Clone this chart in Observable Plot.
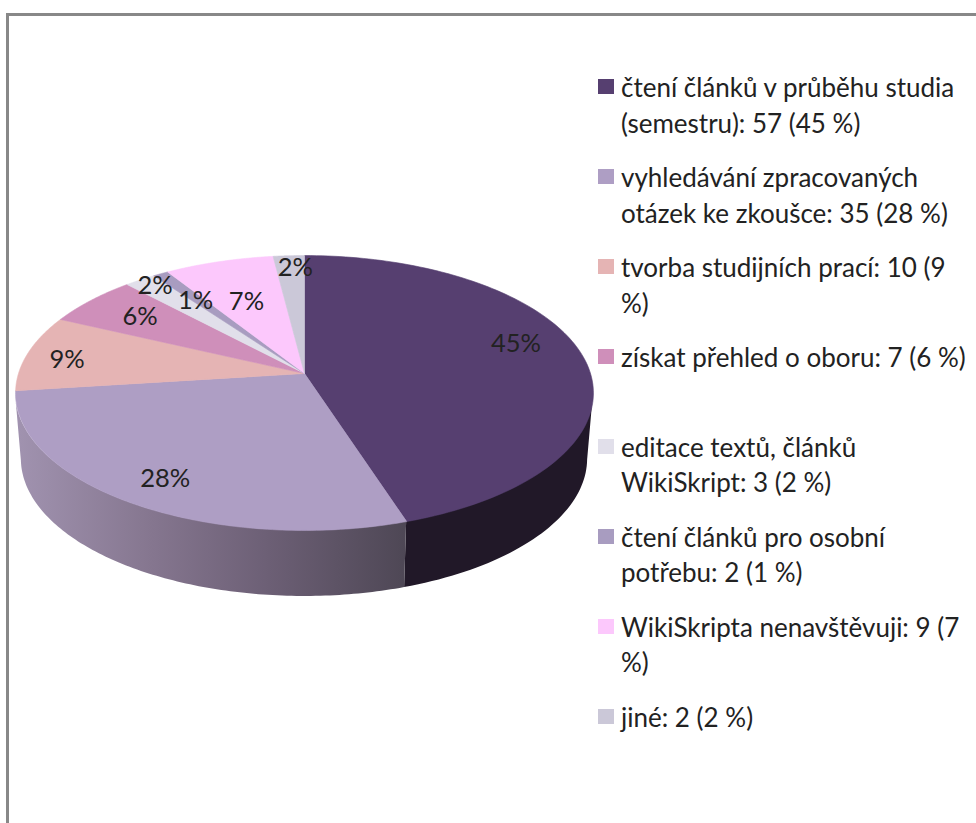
<!DOCTYPE html>
<html lang="cs">
<head>
<meta charset="utf-8">
<script src="https://cdn.jsdelivr.net/npm/d3@7"></script>
<script src="https://cdn.jsdelivr.net/npm/@observablehq/plot@0.6"></script>
<style>
  html, body { margin: 0; padding: 0; background: #fff; overflow: hidden; }
  #page { position: relative; width: 976px; height: 823px; overflow: hidden; }
  #frame { position: absolute; left: 6px; top: 13px; right: -10px; bottom: -10px;
           border: 3px solid #888; pointer-events: none; }
  #chart { position: absolute; left: 0; top: 0; }
  #chart svg { display: block; }
  #legend { position: absolute; left: 598px; top: 70px; width: 378px; margin: 0; padding: 0; list-style: none;
            font: 26px/35.5px Lato, sans-serif; color: #222; }
  #legend li { display: flex; align-items: flex-start; margin-bottom: 19px; white-space: pre; }
  #legend li.gap { margin-bottom: 54px; }
  #legend i { flex: none; width: 16px; height: 15px; margin: 9px 7px 0 0; }
</style>
</head>
<body>
<div id="page">
  <div id="chart"></div>
  <div id="frame"></div>
  <ul id="legend"></ul>
</div>
<script>
const legendLabels = [
  "čtení článků v průběhu studia\n(semestru): 57 (45 %)",
  "vyhledávání zpracovaných\notázek ke zkoušce: 35 (28 %)",
  "tvorba studijních prací: 10 (9\n%)",
  "získat přehled o oboru: 7 (6 %)",
  "editace textů, článků\nWikiSkript: 3 (2 %)",
  "čtení článků pro osobní\npotřebu: 2 (1 %)",
  "WikiSkripta nenavštěvuji: 9 (7\n%)",
  "jiné: 2 (2 %)"
];
const percents = [45, 28, 9, 6, 2, 1, 7, 2];
const colors = ["#563f70", "#ae9ec4", "#e5b4b4", "#cf8fba", "#e1dfea", "#a89cc0", "#fcc8fc", "#cbc8d8"];
const sideColors = ["#211828", "url(#rim)", "#b09090", "#a07090", "#b0aeb8", "#8a8098", "#c8a0c8", "#a09eac"];

// label fine-placement, in pixels, applied on top of the computed slice position
const labelNudge = [[3, -14], [-13, 12], [-29, 2], [-1, -1], [-23, -16], [2, 4], [8, 15], [3, -15]];

const tilt = 0.1418;     // perspective strength of the tilted disc
const depth = 0.49;      // disc thickness, in y-scale units
const rimShrink = 0.98;  // bottom rim is slightly narrower
const labelReach = 0.75;

const project = (theta, r = 1) => {
  const u = r * Math.sin(theta), v = -r * Math.cos(theta), w = 1 - tilt * v;
  return {x: u / w, y: v / w, v};
};

const arcs = d3.pie().sort(null).value(d => d)(percents);
const arcPoints = (a, r = 1) => d3.range(0, 121).map(i =>
  project(a.startAngle + (a.endAngle - a.startAngle) * i / 120, r));

const faces = arcs.map(a => [{x: 0, y: 0}, ...arcPoints(a), {x: 0, y: 0}]);
const sides = arcs.map(a => arcPoints(a).filter(p => p.v > tilt)
  .map(p => ({x1: p.x, y1: p.y, x2: p.x * rimShrink, y2: p.y + depth})));
const labels = arcs.map((a, i) => ({
  ...project((a.startAngle + a.endAngle) / 2, labelReach),
  text: percents[i] + "%"
}));

const rimGradient = () => {
  const defs = d3.create("svg:defs");
  const g = defs.append("linearGradient").attr("id", "rim").attr("x1", 0).attr("x2", 1).attr("y1", 0).attr("y2", 0);
  [[0, "#a193b0"], [0.35, "#85768f"], [0.65, "#6c5f75"], [1, "#4e4755"]].forEach(([o, c]) =>
    g.append("stop").attr("offset", o).attr("stop-color", c));
  return defs.node();
};

const chart = Plot.plot({
  width: 976,
  height: 823,
  margin: 0,
  x: {domain: [-1, 1], range: [18, 590], axis: null},
  y: {domain: [-1, 1], range: [238.3, 507.7], axis: null},
  style: {background: "transparent"},
  marks: [
    rimGradient,
    ...sides.map((s, i) => s.length ? Plot.area(s, {x1: "x1", y1: "y1", x2: "x2", y2: "y2", fill: sideColors[i]}) : null),
    ...faces.map((f, i) => Plot.line(f, {x: "x", y: "y", fill: colors[i], stroke: colors[i], strokeWidth: 0.6})),
    ...labels.map((d, i) => Plot.text([d], {
      x: "x", y: "y", text: "text",
      dx: labelNudge[i][0], dy: labelNudge[i][1],
      fontFamily: "Lato, sans-serif", fontSize: 25.5, fill: "#222"
    }))
  ]
});
document.getElementById("chart").append(chart);

const legend = d3.select("#legend");
legendLabels.forEach((t, i) => {
  const li = legend.append("li").classed("gap", i === 3);
  li.append("i").style("background", colors[i]);
  li.append("span").text(t);
});
</script>
</body>
</html>
